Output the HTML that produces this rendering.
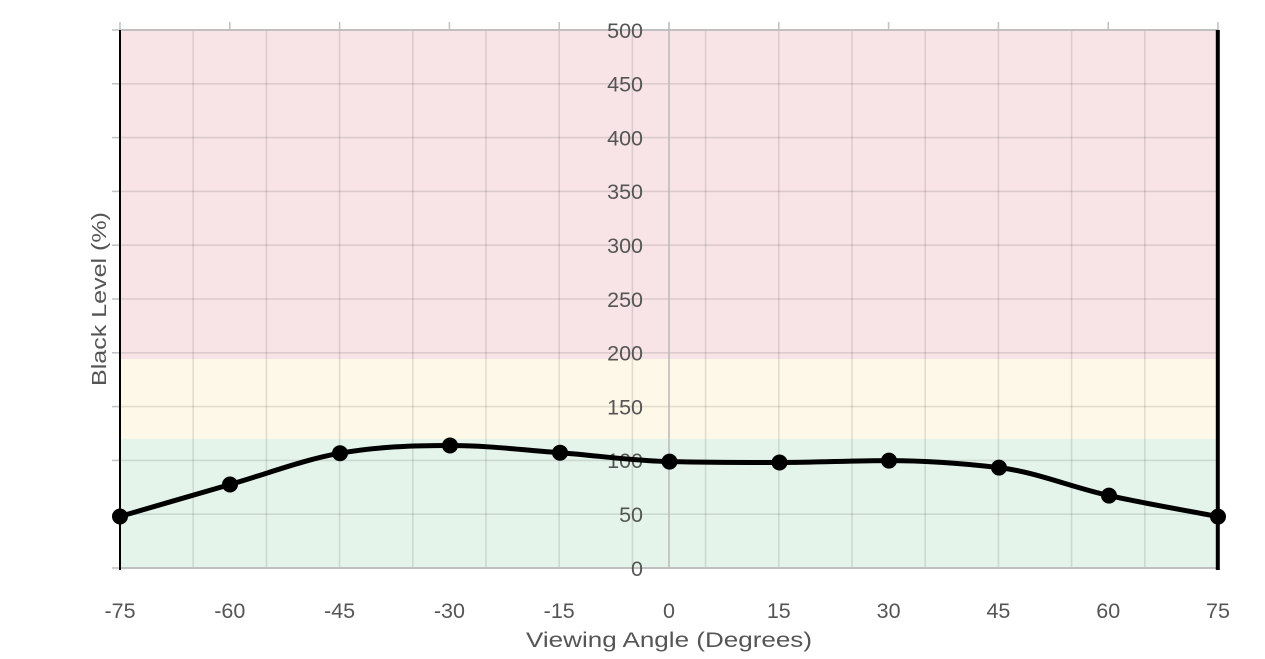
<!DOCTYPE html>
<html><head><meta charset="utf-8"><style>
html,body{margin:0;padding:0;background:#fff;}
svg{display:block;}
text{font-family:"Liberation Sans",sans-serif;fill:#555;}
</style></head><body>
<svg width="1265" height="659" viewBox="0 0 1265 659" xmlns="http://www.w3.org/2000/svg">
<rect x="0" y="0" width="1265" height="659" fill="#fff"/>
<!-- bands -->
<rect x="120" y="30" width="1098" height="329" fill="#f8e4e6"/>
<rect x="120" y="359" width="1098" height="80" fill="#fef8e8"/>
<rect x="120" y="439" width="1098" height="129" fill="#e4f4ea"/>
<!-- vertical grid -->
<g stroke="#000" stroke-opacity="0.11" stroke-width="1.6">
<line x1="193.2" y1="30" x2="193.2" y2="568"/>
<line x1="266.4" y1="30" x2="266.4" y2="568"/>
<line x1="339.6" y1="30" x2="339.6" y2="568"/>
<line x1="412.8" y1="30" x2="412.8" y2="568"/>
<line x1="486" y1="30" x2="486" y2="568"/>
<line x1="559.2" y1="30" x2="559.2" y2="568"/>
<line x1="632.4" y1="30" x2="632.4" y2="568"/>
<line x1="705.6" y1="30" x2="705.6" y2="568"/>
<line x1="778.8" y1="30" x2="778.8" y2="568"/>
<line x1="852" y1="30" x2="852" y2="568"/>
<line x1="925.2" y1="30" x2="925.2" y2="568"/>
<line x1="998.4" y1="30" x2="998.4" y2="568"/>
<line x1="1071.6" y1="30" x2="1071.6" y2="568"/>
<line x1="1144.8" y1="30" x2="1144.8" y2="568"/>
</g>
<!-- horizontal grid -->
<g stroke="#000" stroke-opacity="0.11" stroke-width="1.6">
<line x1="120" y1="83.8" x2="1218" y2="83.8"/>
<line x1="120" y1="137.6" x2="1218" y2="137.6"/>
<line x1="120" y1="191.4" x2="1218" y2="191.4"/>
<line x1="120" y1="245.2" x2="1218" y2="245.2"/>
<line x1="120" y1="299" x2="1218" y2="299"/>
<line x1="120" y1="352.8" x2="1218" y2="352.8"/>
<line x1="120" y1="406.6" x2="1218" y2="406.6"/>
<line x1="120" y1="460.4" x2="1218" y2="460.4"/>
<line x1="120" y1="514.2" x2="1218" y2="514.2"/>
</g>
<!-- left ticks -->
<g stroke="#c4c4c4" stroke-width="1.6">
<line x1="112" y1="30" x2="120" y2="30"/>
<line x1="112" y1="83.8" x2="120" y2="83.8"/>
<line x1="112" y1="137.6" x2="120" y2="137.6"/>
<line x1="112" y1="191.4" x2="120" y2="191.4"/>
<line x1="112" y1="245.2" x2="120" y2="245.2"/>
<line x1="112" y1="299" x2="120" y2="299"/>
<line x1="112" y1="352.8" x2="120" y2="352.8"/>
<line x1="112" y1="406.6" x2="120" y2="406.6"/>
<line x1="112" y1="460.4" x2="120" y2="460.4"/>
<line x1="112" y1="514.2" x2="120" y2="514.2"/>
<line x1="112" y1="568" x2="120" y2="568"/>
</g>
<!-- top ticks -->
<g stroke="#c4c4c4" stroke-width="1.6">
<line x1="120" y1="22" x2="120" y2="30"/>
<line x1="229.8" y1="22" x2="229.8" y2="30"/>
<line x1="339.6" y1="22" x2="339.6" y2="30"/>
<line x1="449.4" y1="22" x2="449.4" y2="30"/>
<line x1="559.2" y1="22" x2="559.2" y2="30"/>
<line x1="778.8" y1="22" x2="778.8" y2="30"/>
<line x1="888.6" y1="22" x2="888.6" y2="30"/>
<line x1="998.4" y1="22" x2="998.4" y2="30"/>
<line x1="1108.2" y1="22" x2="1108.2" y2="30"/>
<line x1="1218" y1="22" x2="1218" y2="30"/>
</g>
<!-- axis lines -->
<line x1="120" y1="30" x2="1218" y2="30" stroke="#c0c0c0" stroke-width="2"/>
<line x1="120" y1="568" x2="1218" y2="568" stroke="#c0c0c0" stroke-width="2"/>
<line x1="669" y1="22" x2="669" y2="568" stroke="#bcbcbc" stroke-width="1.6"/>
<line x1="120" y1="30" x2="120" y2="570" stroke="#000" stroke-width="2"/>
<line x1="1217.8" y1="30" x2="1217.8" y2="570" stroke="#000" stroke-width="4"/>
<!-- y labels -->
<g font-size="21.5" text-anchor="end">
<text x="643" y="37.8">500</text>
<text x="643" y="91.6">450</text>
<text x="643" y="145.4">400</text>
<text x="643" y="199.2">350</text>
<text x="643" y="253">300</text>
<text x="643" y="306.8">250</text>
<text x="643" y="360.6">200</text>
<text x="643" y="414.4">150</text>
<text x="643" y="468.2">100</text>
<text x="643" y="522">50</text>
<text x="643" y="575.8">0</text>
</g>
<!-- x labels -->
<g font-size="21.5" text-anchor="middle">
<text x="120" y="618">-75</text>
<text x="229.8" y="618">-60</text>
<text x="339.6" y="618">-45</text>
<text x="449.4" y="618">-30</text>
<text x="559.2" y="618">-15</text>
<text x="669" y="618">0</text>
<text x="778.8" y="618">15</text>
<text x="888.6" y="618">30</text>
<text x="998.4" y="618">45</text>
<text x="1108.2" y="618">60</text>
<text x="1218" y="618">75</text>
</g>
<!-- titles -->
<text x="669" y="647" font-size="21" text-anchor="middle" textLength="286" lengthAdjust="spacingAndGlyphs">Viewing Angle (Degrees)</text>
<text transform="translate(106,299) rotate(-90)" x="0" y="0" font-size="20" text-anchor="middle" textLength="174" lengthAdjust="spacingAndGlyphs">Black Level (%)</text>
<!-- series -->
<path fill="none" stroke="#000" stroke-width="5" stroke-linejoin="round" stroke-linecap="round"
d="M120,516.5 C156.6,505.8 193.4,495.05 230,484.5 C266.6,473.95 303.4,459.7 340,453.2 C376.6,446.7 413.4,445.5 450,445.5 C486.6,445.5 523.4,450 560,452.7 C596.5,455.4 633,460.9 669.5,461.6 C706.2,462.3 742.8,462.5 779.5,462.5 C816,462.5 852.5,460.6 889,460.6 C925.7,460.6 962.3,463.3 999,467.6 C1035.7,471.9 1072.3,487.6 1109,495.6 C1145.3,503.6 1181.7,509.6 1218,516.6"/>
<g fill="#000">
<circle cx="120" cy="516.5" r="8"/>
<circle cx="230" cy="484.5" r="8"/>
<circle cx="340" cy="453.2" r="8"/>
<circle cx="450" cy="445.5" r="8"/>
<circle cx="560" cy="452.7" r="8"/>
<circle cx="669.5" cy="461.6" r="8"/>
<circle cx="779.5" cy="462.5" r="8"/>
<circle cx="889" cy="460.6" r="8"/>
<circle cx="999" cy="467.6" r="8"/>
<circle cx="1109" cy="495.6" r="8"/>
<circle cx="1218" cy="516.6" r="8"/>
</g>
</svg>
</body></html>
